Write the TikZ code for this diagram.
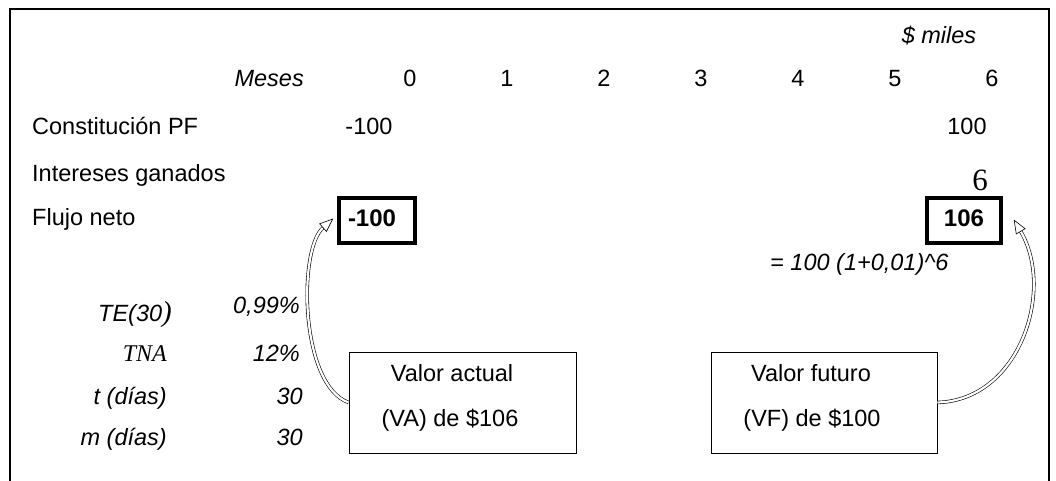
\documentclass[tikz,border=0pt]{standalone}
\usepackage{fontspec}
\setmainfont{Liberation Sans}
\newfontfamily\serifface{Liberation Serif}
\usetikzlibrary{arrows.meta}
\begin{document}
\begin{tikzpicture}[x=1pt,y=-1pt,
  lbl/.style={inner sep=0pt, text height=17pt, text depth=0pt, font=\fontsize{23.5}{28}\selectfont},
  itl/.style={lbl, font=\fontsize{23.5}{28}\selectfont\itshape},
  flowbox/.style={draw, line width=3.5pt, minimum height=45pt, inner ysep=0pt,
     text height=17pt, text depth=6pt, font=\fontsize{24}{28}\selectfont\bfseries},
  infobox/.style={draw, line width=0.9pt, minimum width=227pt, minimum height=101pt, inner sep=0pt},
  dblarrow/.style={line width=0.6pt, double=white, double distance=2.2pt,
     -{Triangle[open, length=14pt, width=11pt, line width=0.6pt]}},
  frameline/.style={line width=1.6pt}
]
\useasboundingbox (0,0) rectangle (1056,481);
% frame
\draw[frameline] (10,481) -- (10,9) -- (1049,9) -- (1049,481);

% header
\node[itl, anchor=center] (miles) at (939,35) {\$ miles};
\node[itl, anchor=east] (meses) at (304,78) {Meses};
\foreach \i/\x in {0/410,1/507,2/604,3/701,4/798,5/895,6/992}{
  \node[lbl, anchor=center] (m\i) at (\x,78) {\i};
}

% rows
\node[lbl, anchor=west] (cpf) at (32,126) {Constitución PF};
\node[lbl, anchor=center] (c0) at (369,126) {-100};
\node[lbl, anchor=center] (c6) at (967,126) {100};
\node[lbl, anchor=west] (ig) at (32,173) {Intereses ganados};
\node[lbl, anchor=west] (fn) at (32,217) {Flujo neto};

% flow boxes
\node[flowbox, minimum width=76pt, text width=58pt, inner xsep=9pt, align=left] (f0) at (377,220.5) {-100};
\node[flowbox, minimum width=74pt, align=center] (f6) at (964,220.5) {106};
\node[inner sep=0pt, font=\fontsize{31}{34}\selectfont\serifface] (six) at (980,180) {6};

% formula
\node[itl, anchor=west] (form) at (770,262) {= 100 (1+0,01)\^{}6};

% parameters
\node[itl, anchor=east] (te) at (172,313) {TE(30{\fontsize{29}{30}\selectfont\serifface\itshape )}};
\node[itl, anchor=east] (tev) at (300,305) {0,99\%};
\node[lbl, anchor=east, font=\fontsize{24}{28}\selectfont\serifface\itshape] (tna) at (167,353) {TNA};
\node[itl, anchor=east] (tnav) at (300,353) {12\%};
\node[itl, anchor=east] (td) at (167,396) {t (días)};
\node[itl, anchor=east] (tdv) at (303,396) {30};
\node[itl, anchor=east] (md) at (167,437) {m (días)};
\node[itl, anchor=east] (mdv) at (303,437) {30};

% info boxes
\node[infobox] (va) at (462.5,402.5) {};
\node[lbl] (va1) at (452,373) {Valor actual};
\node[lbl] (va2) at (450,418) {(VA) de \$106};
\node[infobox, minimum width=226pt] (vf) at (824,402.5) {};
\node[lbl] (vf1) at (811,373) {Valor futuro};
\node[lbl] (vf2) at (812,418) {(VF) de \$100};

% arrows
\coordinate (tipL) at ([shift={(-4,-2)}]f0.west);
\coordinate (tipR) at ([shift={(11,-1)}]f6.east);
\draw[dblarrow] (va.west) .. controls (300,385) and (298,250) .. (tipL);
\draw[dblarrow] (vf.east) .. controls (1020,400) and (1055,290) .. (tipR);
\end{tikzpicture}
\end{document}
